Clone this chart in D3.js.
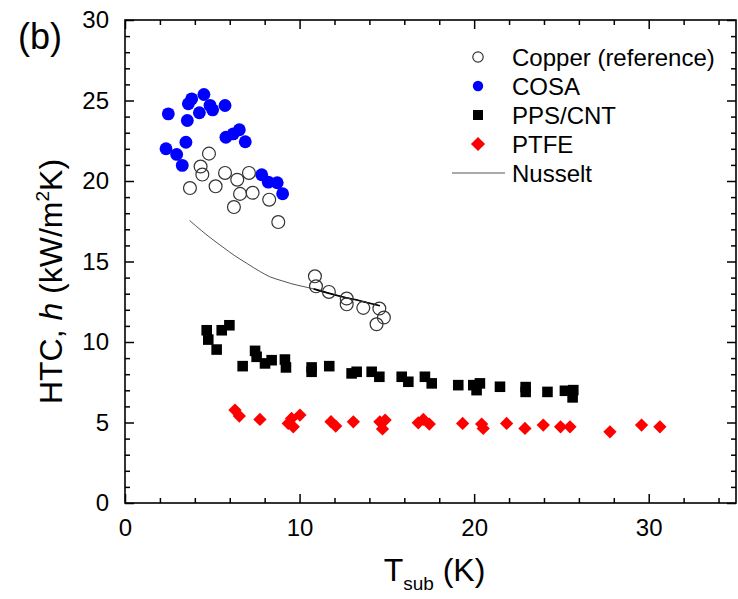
<!DOCTYPE html>
<html>
<head>
<meta charset="utf-8">
<script src="https://cdn.jsdelivr.net/npm/d3@7"></script>
<style>
  body { margin: 0; background: #fff; }
  svg text { font-family: "Liberation Sans", Arial, sans-serif; fill: #000; }
</style>
</head>
<body>
<div id="chart"></div>
<script>
var svgWidth = 738;
var svgHeight = 599;

var margin = { top: 20, right: 2, bottom: 96, left: 125 };
var width = svgWidth - margin.left - margin.right;
var height = svgHeight - margin.top - margin.bottom;

// data
var copperX = [4.81, 4.33, 4.43, 3.72, 5.19, 5.73, 6.43, 7.1, 6.59, 7.31, 6.24, 8.26, 8.78,
  10.88, 10.94, 11.68, 12.7, 12.7, 13.65, 14.57, 14.83, 14.41];
var copperY = [21.7, 20.9, 20.4, 19.56, 19.67, 20.5, 20.08, 20.5, 19.2, 19.27, 18.38, 18.84, 17.45,
  14.08, 13.46, 13.11, 12.7, 12.34, 12.12, 12.08, 11.52, 11.1];

var cosaX = [2.48, 3.82, 3.63, 4.52, 3.57, 4.26, 4.87, 5.02, 5.73, 2.35, 3.49, 2.96, 3.28,
  5.78, 6.2, 6.55, 6.89, 7.83, 8.21, 8.72, 9.03];
var cosaY = [24.17, 25.1, 24.8, 25.37, 23.76, 24.24, 24.7, 24.42, 24.69, 22.0, 22.41, 21.65, 20.97,
  22.72, 22.93, 23.18, 22.44, 20.39, 19.93, 19.89, 19.21];

var ppsX = [4.68, 4.77, 5.25, 5.54, 5.98, 6.74, 7.45, 7.54, 8.02, 8.4, 9.16, 9.22, 10.69, 10.69,
  11.7, 12.98, 13.27, 14.13, 14.57, 15.85, 16.23, 17.18, 17.57, 19.09, 19.95, 20.14, 20.33,
  21.48, 22.95, 22.95, 24.2, 25.2, 25.68, 25.64];
var ppsY = [10.73, 10.15, 9.53, 10.73, 11.04, 8.5, 9.45, 9.08, 8.67, 8.87, 8.91, 8.42, 8.42, 8.15,
  8.5, 8.05, 8.15, 8.15, 7.84, 7.84, 7.53, 7.84, 7.43, 7.32, 7.32, 7.01, 7.43,
  7.22, 7.2, 6.9, 6.9, 6.97, 7.01, 6.56];

var ptfeX = [6.3, 6.55, 7.73, 9.35, 9.54, 9.64, 10.02, 11.8, 12.07, 13.08, 14.6, 14.9, 14.75,
  16.8, 17.09, 17.43, 19.34, 20.43, 20.52, 21.86, 22.91, 23.96, 24.95, 25.49, 27.78, 29.59, 30.64];
var ptfeY = [5.77, 5.4, 5.19, 4.94, 5.25, 4.73, 5.46, 5.05, 4.78, 5.04, 5.04, 5.15, 4.6,
  4.98, 5.19, 4.9, 4.94, 4.9, 4.63, 4.94, 4.63, 4.84, 4.73, 4.73, 4.42, 4.84, 4.73];

var nusseltX = [3.7, 4.4, 5.1, 5.6, 6.3, 7.0, 7.7, 8.3, 9.0, 9.5, 10.2, 10.8, 11.6, 12.5, 13.5, 14.6];
var nusseltY = [17.55, 16.9, 16.3, 15.9, 15.35, 14.87, 14.4, 14.05, 13.8, 13.63, 13.45, 13.3, 13.05, 12.8, 12.55, 12.25];

var xMajor = [0, 10, 20, 30];
var xMinor = [2, 4, 6, 8, 12, 14, 16, 18, 22, 24, 26, 28, 32, 34];
var yMajor = [0, 5, 10, 15, 20, 25, 30];
var yMinor = [1, 2, 3, 4, 6, 7, 8, 9, 11, 12, 13, 14, 16, 17, 18, 19, 21, 22, 23, 24, 26, 27, 28, 29];

var legendNames = ["Copper (reference)", "COSA", "PPS/CNT", "PTFE", "Nusselt"];

var svg = d3.select("#chart")
  .append("svg")
  .attr("width", svgWidth)
  .attr("height", svgHeight);

var chartGroup = svg.append("g")
  .attr("transform", `translate(${margin.left}, ${margin.top})`);

var x = d3.scaleLinear().domain([0, 35]).range([0, width]);
var y = d3.scaleLinear().domain([0, 30]).range([height, 0]);

function zip(xs, ys) {
  return xs.map((v, i) => ({ x: v, y: ys[i] }));
}

// ticks on all four sides, pointing inward
function addAxis(axis, transform, values, size, labels) {
  var g = chartGroup.append("g")
    .attr("transform", transform)
    .call(axis.tickValues(values).tickSizeInner(-size).tickSizeOuter(0).tickPadding(size + 7)
      .tickFormat(labels ? d3.format("d") : ""));
  g.select(".domain").remove();
  g.selectAll(".tick line").attr("stroke", "#000").attr("stroke-width", 1.5);
  g.selectAll("text").attr("font-size", 24).attr("fill", "#000");
  return g;
}

addAxis(d3.axisBottom(x), `translate(0, ${height})`, xMajor, 9, true);
addAxis(d3.axisBottom(x), `translate(0, ${height})`, xMinor, 5, false);
addAxis(d3.axisTop(x), "translate(0, 0)", xMajor, 9, false);
addAxis(d3.axisTop(x), "translate(0, 0)", xMinor, 5, false);
addAxis(d3.axisLeft(y), "translate(0, 0)", yMajor, 9, true);
addAxis(d3.axisLeft(y), "translate(0, 0)", yMinor, 5, false);
addAxis(d3.axisRight(y), `translate(${width}, 0)`, yMajor, 9, false);
addAxis(d3.axisRight(y), `translate(${width}, 0)`, yMinor, 5, false);

chartGroup.append("rect")
  .attr("width", width)
  .attr("height", height)
  .attr("fill", "none")
  .attr("stroke", "#000")
  .attr("stroke-width", 1.6);

// Nusselt curve
var line = d3.line().x(d => x(d.x)).y(d => y(d.y)).curve(d3.curveMonotoneX);
var nusselt = zip(nusseltX, nusseltY);
chartGroup.append("path")
  .datum(nusselt)
  .attr("d", line)
  .attr("fill", "none")
  .attr("stroke", "#555")
  .attr("stroke-width", 1);
chartGroup.append("path")
  .datum(nusselt.filter(d => d.x >= 10.8))
  .attr("d", line)
  .attr("fill", "none")
  .attr("stroke", "#000")
  .attr("stroke-width", 1.6);

var circleSym = d3.symbol().type(d3.symbolCircle).size(130);
var squareSym = d3.symbol().type(d3.symbolSquare).size(112);
var diamondSym = d3.symbol().type(d3.symbolSquare).size(88);

function drawSeries(data, sym, fill, stroke, rot) {
  chartGroup.append("g").selectAll("path")
    .data(data)
    .enter()
    .append("path")
    .attr("d", sym)
    .attr("transform", d => `translate(${x(d.x)}, ${y(d.y)}) rotate(${rot})`)
    .attr("fill", fill)
    .attr("stroke", stroke)
    .attr("stroke-width", 1.2);
}

drawSeries(zip(cosaX, cosaY), circleSym, "#0000ff", "none", 0);
drawSeries(zip(copperX, copperY), circleSym, "none", "#333", 0);
drawSeries(zip(ppsX, ppsY), squareSym, "#000", "none", 0);
drawSeries(zip(ptfeX, ptfeY), diamondSym, "#ff0000", "none", 45);

// legend
var legend = svg.append("g").attr("transform", "translate(478, 57)");
var rowGap = 29;
legendNames.forEach(function(name, i) {
  var row = legend.append("g").attr("transform", `translate(0, ${i * rowGap})`);
  if (i === 0) {
    row.append("path").attr("d", d3.symbol().type(d3.symbolCircle).size(85))
      .attr("fill", "none").attr("stroke", "#333").attr("stroke-width", 1.2);
  } else if (i === 1) {
    row.append("path").attr("d", d3.symbol().type(d3.symbolCircle).size(85)).attr("fill", "#0000ff");
  } else if (i === 2) {
    row.append("path").attr("d", d3.symbol().type(d3.symbolSquare).size(100)).attr("fill", "#000");
  } else if (i === 3) {
    row.append("path").attr("d", d3.symbol().type(d3.symbolSquare).size(100))
      .attr("transform", "rotate(45)").attr("fill", "#ff0000");
  } else {
    row.append("line").attr("x1", -26).attr("x2", 27).attr("y1", 0).attr("y2", 0)
      .attr("stroke", "#555").attr("stroke-width", 1);
  }
  row.append("text")
    .attr("x", 34)
    .attr("y", 8.5)
    .attr("font-size", 24)
    .text(name);
});

// axis titles
var xTitle = svg.append("text")
  .attr("x", margin.left + width / 2 + 4)
  .attr("y", 581)
  .attr("text-anchor", "middle")
  .attr("font-size", 32);
xTitle.append("tspan").text("T");
xTitle.append("tspan").attr("font-size", 19).attr("dy", 9).text("sub");
xTitle.append("tspan").attr("dy", -9).text(" (K)");

var yTitle = svg.append("text")
  .attr("transform", `translate(62, ${margin.top + height / 2 + 20}) rotate(-90)`)
  .attr("text-anchor", "middle")
  .attr("font-size", 32);
yTitle.append("tspan").text("HTC, ");
yTitle.append("tspan").attr("font-style", "italic").text("h");
yTitle.append("tspan").text(" (kW/m");
yTitle.append("tspan").attr("font-size", 19).attr("dy", -13).text("2");
yTitle.append("tspan").attr("dy", 13).text("K)");

svg.append("text")
  .attr("x", 18)
  .attr("y", 49)
  .attr("font-size", 36)
  .text("(b)");
</script>
</body>
</html>
